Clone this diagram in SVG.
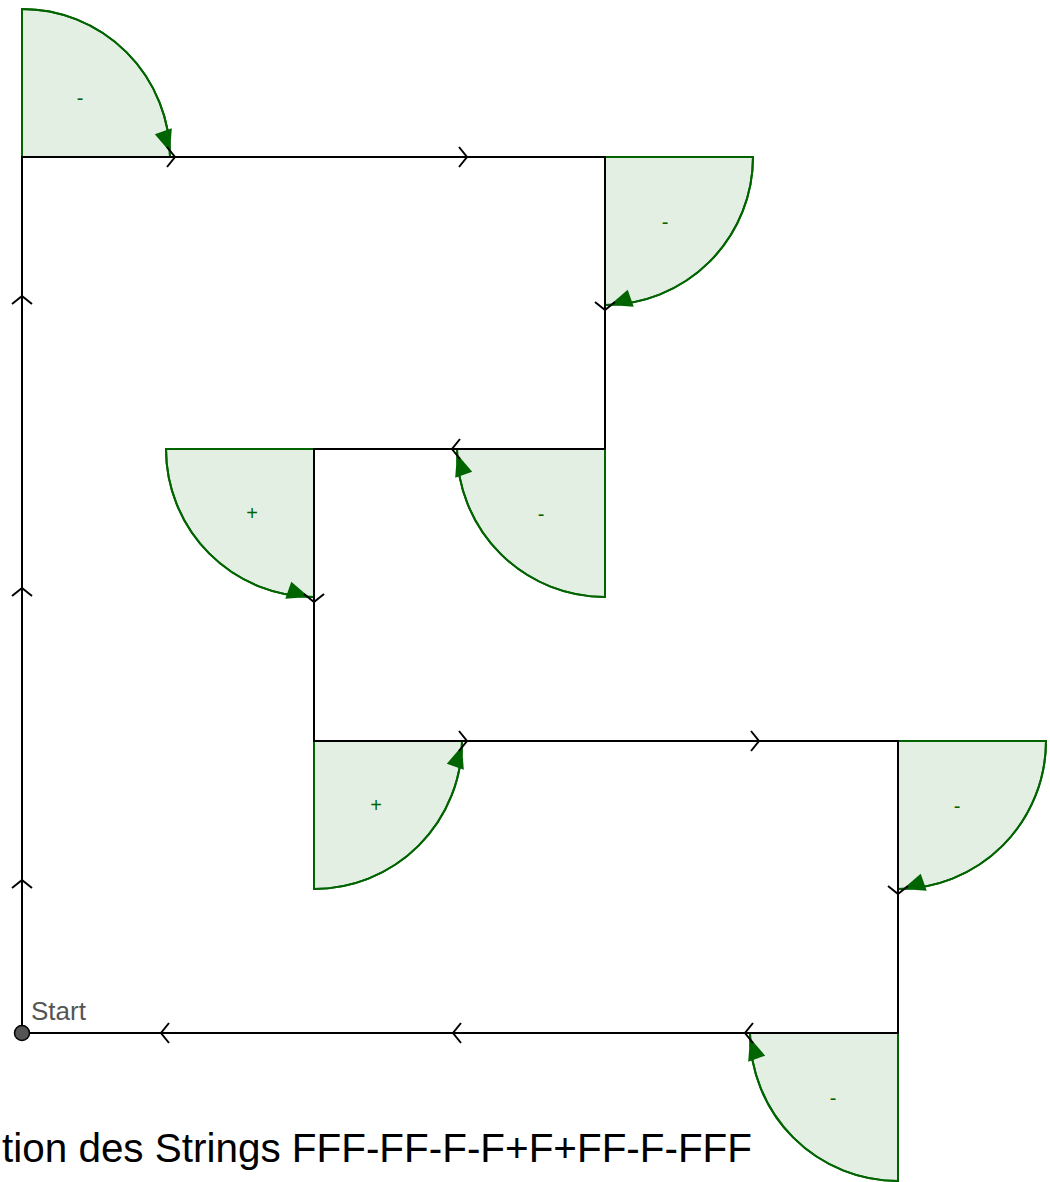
<svg xmlns="http://www.w3.org/2000/svg" xmlns:xlink="http://www.w3.org/1999/xlink" width="1050" height="1182" viewBox="0 0 1050 1182">
<style>
.sector{fill:#e4efe4;stroke:#006400;stroke-width:2}
.arc{fill:none;stroke:#006400;stroke-width:2}
.head{fill:#006400}
.lbl{font-family:"Liberation Sans",Arial,sans-serif;font-size:20px;fill:#006400;text-anchor:middle}
.path{fill:none;stroke:#000;stroke-width:2}
.chev{fill:none;stroke:#000;stroke-width:2}
</style>
<defs>
<path id="chev" d="M-8,-10 L0,0 L-8,10"/>
</defs>
<rect width="1050" height="1182" fill="#fff"/>
<g id="angles">
<g id="angle1"><path class="sector" d="M22,157 L22,9 A148,148 0 0 1 170,157 Z"/><path class="arc" d="M22,9 A148,148 0 0 1 170,157"/><polygon class="head" points="170,152 171.8,128.3 154.8,134.3"/><text class="lbl" x="80" y="105">-</text></g>
<g id="angle2"><path class="sector" d="M605,157 L753,157 A148,148 0 0 1 605,305 Z"/><path class="arc" d="M753,157 A148,148 0 0 1 605,305"/><polygon class="head" points="610,305 633.7,306.8 627.7,289.8"/><text class="lbl" x="665" y="229">-</text></g>
<g id="angle3"><path class="sector" d="M605,449 L605,597 A148,148 0 0 1 457,449 Z"/><path class="arc" d="M605,597 A148,148 0 0 1 457,449"/><polygon class="head" points="457,454 455.2,477.7 472.2,471.7"/><text class="lbl" x="541" y="521">-</text></g>
<g id="angle4"><path class="sector" d="M314,449 L166,449 A148,148 0 0 0 314,597 Z"/><path class="arc" d="M166,449 A148,148 0 0 0 314,597"/><polygon class="head" points="309,597 285.3,598.8 291.3,581.8"/><text class="lbl" x="252" y="520">+</text></g>
<g id="angle5"><path class="sector" d="M314,741 L314,889 A148,148 0 0 0 462,741 Z"/><path class="arc" d="M314,889 A148,148 0 0 0 462,741"/><polygon class="head" points="462,746 463.8,769.7 446.8,763.7"/><text class="lbl" x="376" y="812">+</text></g>
<g id="angle6"><path class="sector" d="M898,741 L1046,741 A148,148 0 0 1 898,889 Z"/><path class="arc" d="M1046,741 A148,148 0 0 1 898,889"/><polygon class="head" points="903,889 926.7,890.8 920.7,873.8"/><text class="lbl" x="957" y="813">-</text></g>
<g id="angle7"><path class="sector" d="M898,1033 L898,1181 A148,148 0 0 1 750,1033 Z"/><path class="arc" d="M898,1181 A148,148 0 0 1 750,1033"/><polygon class="head" points="750,1038 748.2,1061.7 765.2,1055.7"/><text class="lbl" x="833" y="1105">-</text></g>
</g>
<g id="connectors">
<path class="path" d="M22,1033 L22,157 L605,157 L605,449 L314,449 L314,741 L898,741 L898,1033 L22,1033"/>
<g class="chev">
<use xlink:href="#chev" transform="translate(22,880) rotate(-90)"/>
<use xlink:href="#chev" transform="translate(22,588) rotate(-90)"/>
<use xlink:href="#chev" transform="translate(22,296) rotate(-90)"/>
<use xlink:href="#chev" transform="translate(175,157)"/>
<use xlink:href="#chev" transform="translate(467,157)"/>
<use xlink:href="#chev" transform="translate(605,310) rotate(90)"/>
<use xlink:href="#chev" transform="translate(452,449) rotate(180)"/>
<use xlink:href="#chev" transform="translate(314,602) rotate(90)"/>
<use xlink:href="#chev" transform="translate(467,741)"/>
<use xlink:href="#chev" transform="translate(759,741)"/>
<use xlink:href="#chev" transform="translate(898,894) rotate(90)"/>
<use xlink:href="#chev" transform="translate(745,1033) rotate(180)"/>
<use xlink:href="#chev" transform="translate(453,1033) rotate(180)"/>
<use xlink:href="#chev" transform="translate(161,1033) rotate(180)"/>
</g>
</g>
<g id="start">
<circle cx="22" cy="1033" r="7.5" fill="#555" stroke="#000" stroke-width="1.5"/>
<text x="31" y="1020" font-family="Liberation Sans, Arial, sans-serif" font-size="26" fill="#555">Start</text>
</g>
<text id="caption" x="2" y="1162" font-family="Liberation Sans, Arial, sans-serif" font-size="41" fill="#000" textLength="750" lengthAdjust="spacingAndGlyphs">tion des Strings FFF-FF-F-F+F+FF-F-FFF</text>
</svg>
